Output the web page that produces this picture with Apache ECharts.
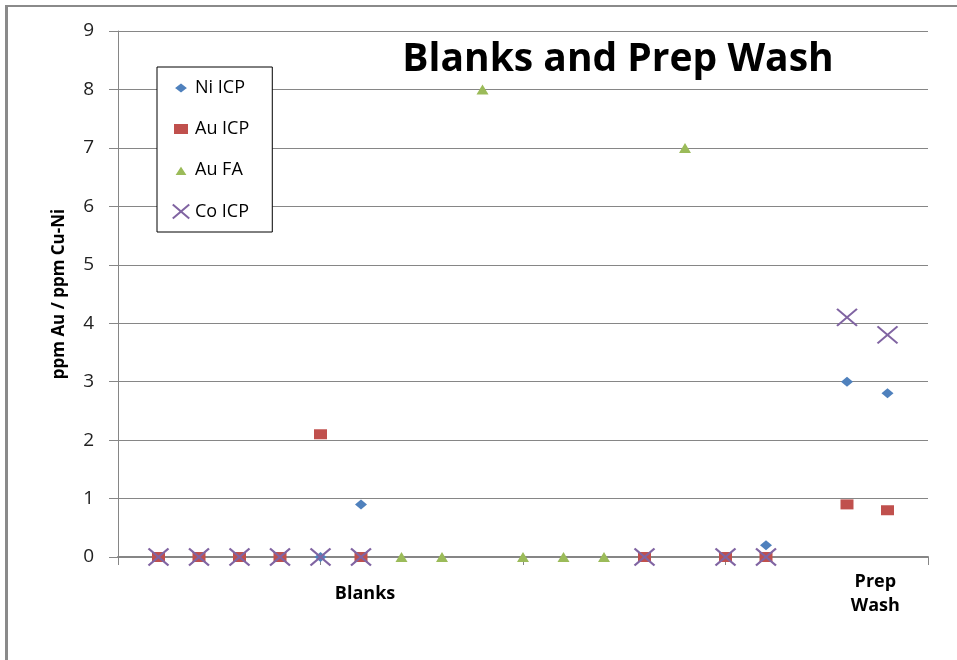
<!DOCTYPE html>
<html>
<head>
<meta charset="utf-8">
<title>Blanks and Prep Wash</title>
<script src="https://cdn.jsdelivr.net/npm/echarts@6/dist/echarts.min.js"></script>
<style>
  html, body { margin: 0; padding: 0; background: #fff; }
  #chart { width: 957px; height: 660px; }
</style>
</head>
<body>
<div id="chart"></div>
<script>
// Sample numbers along the x axis
const samples = [1, 2, 3, 4, 5, 6, 7, 8, 9, 10, 11, 12, 13, 14, 15, 16, 17, 18, 19];

// Assay results per sample (null = not assayed)
const niICP = [0, 0, 0, 0, 0, 0.9, null, null, null, null, null, null, 0, null, 0, 0.2, null, 3.0, 2.8];
const auICP = [0, 0, 0, 0, 2.1, 0, null, null, null, null, null, null, 0, null, 0, 0, null, 0.9, 0.8];
const auFA  = [null, null, null, null, null, null, 0, 0, 8, 0, 0, 0, null, 7, null, null, null, null, null];
const coICP = [0, 0, 0, 0, 0, 0, null, null, null, null, null, null, 0, null, 0, 0, null, 4.1, 3.8];

// Group labels under the x axis and the sample position they sit at
const groupLabels = ['Blanks', 'Prep\nWash'];
const groupLabelAt = [6.1, 18.7];

// x-axis tick marks
const xTicks = [0, 5, 10, 15, 20];

function toPoints(values) {
  return samples.map((s, i) => [s, values[i]]).filter(p => p[1] !== null);
}

const FONT = '"Open Sans", "Liberation Sans", sans-serif';
const GRID_GREY = '#868686';

const chart = echarts.init(document.getElementById('chart'), null, { renderer: 'canvas' });

chart.setOption({
  animation: false,
  backgroundColor: '#fff',
  textStyle: { fontFamily: FONT },
  title: {
    text: 'Blanks and Prep Wash',
    left: 613,
    top: 35,
    textAlign: 'center',
    textStyle: { fontFamily: FONT, fontSize: 39, fontWeight: 'bold', color: '#000' }
  },
  legend: {
    orient: 'vertical',
    left: 157,
    top: 67,
    padding: [12, 23, 11, 13],
    itemGap: 23,
    itemWidth: 18,
    itemHeight: 14,
    backgroundColor: '#fff',
    borderColor: '#000',
    borderWidth: 1,
    borderRadius: 0,
    textStyle: { fontFamily: FONT, fontSize: 18, color: '#000' },
    data: [
      { name: 'Ni ICP', itemStyle: { borderColor: '#fff', borderWidth: 4 } },
      { name: 'Au ICP', itemStyle: { borderColor: '#fff', borderWidth: 4 } },
      { name: 'Au FA', itemStyle: { borderColor: '#fff', borderWidth: 4 } },
      { name: 'Co ICP' }
    ]
  },
  grid: { left: 118, right: 29, top: 31, bottom: 103, containLabel: false },
  xAxis: {
    type: 'value',
    min: 0,
    max: 20,
    interval: 1,
    axisLine: { show: true, lineStyle: { color: GRID_GREY, width: 2 } },
    axisTick: { show: true, customValues: xTicks, length: 8, lineStyle: { color: GRID_GREY } },
    splitLine: { show: false },
    axisLabel: {
      customValues: groupLabelAt,
      margin: 37,
      verticalAlign: 'middle',
      lineHeight: 24,
      fontFamily: FONT,
      fontSize: 18,
      fontWeight: 'bold',
      color: '#000',
      formatter: v => groupLabels[groupLabelAt.indexOf(v)] || ''
    }
  },
  yAxis: {
    type: 'value',
    min: 0,
    max: 9,
    interval: 1,
    name: 'ppm Au / ppm Cu-Ni',
    nameLocation: 'middle',
    nameGap: 50,
    nameTextStyle: { fontFamily: FONT, fontSize: 17, fontWeight: 'bold', color: '#000' },
    axisLine: { show: true, lineStyle: { color: GRID_GREY, width: 1 } },
    axisTick: { show: true, length: 9, lineStyle: { color: GRID_GREY } },
    splitLine: { show: true, lineStyle: { color: GRID_GREY, width: 1 } },
    axisLabel: { margin: 24, fontFamily: FONT, fontSize: 19, color: '#222' }
  },
  series: [
    {
      name: 'Ni ICP',
      type: 'scatter',
      symbol: 'diamond',
      symbolSize: [12, 10],
      itemStyle: { color: '#4F81BD', opacity: 1 },
      data: toPoints(niICP)
    },
    {
      name: 'Au ICP',
      type: 'scatter',
      symbol: 'rect',
      symbolSize: [13, 10],
      itemStyle: { color: '#C0504D', opacity: 1 },
      data: toPoints(auICP)
    },
    {
      name: 'Au FA',
      type: 'scatter',
      symbol: 'triangle',
      symbolSize: [12, 10],
      itemStyle: { color: '#9BBB59', opacity: 1 },
      data: toPoints(auFA)
    },
    {
      name: 'Co ICP',
      type: 'scatter',
      symbol: 'path://M0,0L20,17M20,0L0,17',
      symbolSize: [20, 17],
      itemStyle: { color: 'none', borderColor: '#8064A2', borderWidth: 2, opacity: 1 },
      data: toPoints(coICP)
    }
  ],
  graphic: [
    { type: 'line', shape: { x1: 6.5, y1: 6, x2: 6.5, y2: 660 }, style: { stroke: '#8a8a8a', lineWidth: 3 }, silent: true },
    { type: 'line', shape: { x1: 5, y1: 6, x2: 957, y2: 6 }, style: { stroke: '#8a8a8a', lineWidth: 2 }, silent: true }
  ]
});
</script>
</body>
</html>
